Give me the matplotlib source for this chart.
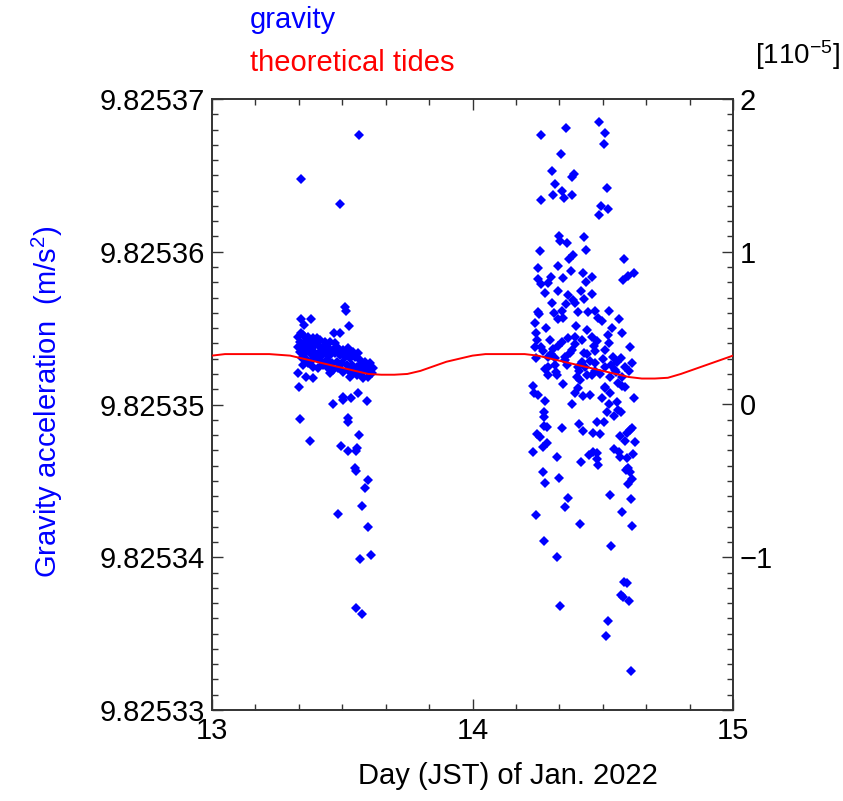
import matplotlib
matplotlib.use("Agg")
import matplotlib.pyplot as plt
from matplotlib.ticker import MultipleLocator, FormatStrFormatter

plt.rcParams["font.family"] = ["Liberation Sans", "DejaVu Sans"]
plt.rcParams["mathtext.fontset"] = "custom"
plt.rcParams["mathtext.rm"] = "Liberation Sans"
plt.rcParams["mathtext.it"] = "Liberation Sans:italic"

G0 = 9.82535  # reference level, right axis is offset in 1e-5 m/s^2

# gravity readings, day of Jan 2022 (JST) and offset from G0 [1e-5 m/s^2]
day_a = [13.564, 13.342, 13.493, 13.511, 13.513, 13.342, 13.379, 13.353, 13.526, 13.469,
         13.491, 13.329, 13.333, 13.388, 13.361, 13.466, 13.502, 13.504, 13.535, 13.559,
         13.594, 13.339, 13.523, 13.523, 13.564, 13.377, 13.495, 13.521, 13.558, 13.554,
         13.549, 13.553, 13.598, 13.587, 13.576, 13.484, 13.598, 13.568, 13.612, 13.553,
         13.575,
         13.331, 13.351, 13.370, 13.389, 13.338, 13.357, 13.376, 13.395, 13.415, 13.434,
         13.453, 13.472, 13.331, 13.351, 13.370, 13.389, 13.408, 13.427, 13.447, 13.466,
         13.485, 13.504, 13.523, 13.543, 13.562, 13.338, 13.357, 13.376, 13.395, 13.415,
         13.434, 13.453, 13.472, 13.491, 13.511, 13.530, 13.549, 13.568, 13.587, 13.606,
         13.619, 13.344, 13.363, 13.383, 13.402, 13.421, 13.440, 13.459, 13.479, 13.498,
         13.517, 13.536, 13.555, 13.574, 13.594, 13.613, 13.351, 13.370, 13.389, 13.408,
         13.427, 13.447, 13.466, 13.485, 13.504, 13.523, 13.543, 13.562, 13.581, 13.600,
         13.453, 13.530, 13.555, 13.581, 13.600, 13.568, 13.517, 13.453, 13.415, 13.383,
         13.340, 13.363, 13.402, 13.440, 13.421]
val_a = [1.764, 1.474, 1.315, 0.640, 0.612, 0.558, 0.558, 0.520, 0.516, 0.466,
         0.470, 0.208, 0.112, 0.171, 0.182, 0.001, 0.029, 0.051, 0.044, 0.077,
         0.023, -0.097, -0.087, -0.113, -0.200, -0.237, -0.272, -0.305, -0.287, -0.305,
         -0.414, -0.436, -0.494, -0.545, -0.663, -0.715, -0.802, -1.010, -0.985, -1.330,
         -1.374,
         0.444, 0.455, 0.444, 0.433, 0.411, 0.411, 0.401, 0.411, 0.422, 0.411,
         0.411, 0.401, 0.379, 0.379, 0.368, 0.379, 0.390, 0.379, 0.368, 0.357,
         0.368, 0.357, 0.368, 0.346, 0.335, 0.346, 0.335, 0.346, 0.335, 0.346,
         0.335, 0.324, 0.335, 0.324, 0.313, 0.302, 0.313, 0.291, 0.280, 0.270,
         0.237, 0.302, 0.291, 0.291, 0.302, 0.280, 0.291, 0.270, 0.280, 0.270,
         0.259, 0.259, 0.248, 0.237, 0.248, 0.204, 0.259, 0.270, 0.248, 0.237,
         0.259, 0.237, 0.226, 0.237, 0.215, 0.226, 0.215, 0.204, 0.215, 0.182,
         0.204, 0.182, 0.193, 0.171, 0.226, 0.259, 0.335, 0.357, 0.313, 0.324,
         0.466, 0.422, 0.433, 0.379, 0.357]

day_b = [14.487, 14.359, 14.262, 14.509, 14.505, 14.339, 14.306, 14.390, 14.383, 14.317,
         14.518, 14.345, 14.310, 14.351, 14.383, 14.263, 14.493, 14.521, 14.487, 14.332,
         14.336, 14.428, 14.362, 14.259, 14.436, 14.583, 14.386, 14.370, 14.330, 14.250,
         14.378, 14.423, 14.620, 14.598, 14.576, 14.253, 14.301, 14.346, 14.457, 14.434,
         14.263, 14.291, 14.278, 14.330, 14.365, 14.417, 14.460, 14.387, 14.393, 14.429,
         14.304, 14.358, 14.253, 14.342, 14.257, 14.314, 14.404, 14.445, 14.470, 14.524,
         14.483, 14.564, 14.240, 14.330, 14.349, 14.496, 14.399, 14.438, 14.537, 14.281,
         14.244, 14.573, 14.521, 14.393, 14.457, 14.246, 14.298, 14.342, 14.368, 14.422,
         14.477, 14.524, 14.240, 14.605, 14.263, 14.310, 14.470, 14.383, 14.509, 14.429,
         14.291, 14.243, 14.317, 14.355, 14.419, 14.451, 14.470, 14.541, 14.570, 14.291,
         14.317, 14.362, 14.406, 14.432, 14.470, 14.509, 14.547, 14.585, 14.611, 14.291,
         14.323, 14.400, 14.438, 14.457, 14.528, 14.573, 14.231, 14.349, 14.406, 14.509,
         14.573,
         14.413, 14.509, 14.560, 14.585, 14.237, 14.253, 14.278, 14.393, 14.425, 14.451,
         14.498, 14.528, 14.525, 14.553, 14.621, 14.383, 14.275, 14.276, 14.515, 14.544,
         14.560, 14.570, 14.479, 14.506, 14.410, 14.276, 14.285, 14.342, 14.423, 14.461,
         14.490, 14.246, 14.259, 14.566, 14.592, 14.605, 14.614, 14.585, 14.624, 14.285,
         14.269, 14.234, 14.326, 14.416, 14.449, 14.464, 14.477, 14.477, 14.481, 14.544,
         14.562, 14.566, 14.592, 14.617, 14.589, 14.598, 14.605, 14.611, 14.598, 14.272,
         14.278, 14.332, 14.365, 14.355, 14.528, 14.608, 14.573, 14.243, 14.414, 14.611,
         14.275, 14.532, 14.323, 14.583, 14.592, 14.570, 14.576, 14.601, 14.337, 14.519,
         14.514, 14.608,
         14.270, 14.300, 14.330, 14.355, 14.375, 14.395, 14.440, 14.465, 14.500, 14.530,
         14.555, 14.280, 14.320, 14.410, 14.490, 14.550, 14.600]
val_b = [1.847, 1.808, 1.764, 1.775, 1.703, 1.640, 1.531, 1.509, 1.492, 1.444,
         1.415, 1.400, 1.369, 1.354, 1.369, 1.339, 1.300, 1.278, 1.239, 1.103,
         1.073, 1.099, 1.055, 1.007, 1.012, 0.950, 0.979, 0.950, 0.907, 0.892,
         0.876, 0.863, 0.863, 0.844, 0.815, 0.820, 0.837, 0.830, 0.837, 0.804,
         0.789, 0.793, 0.728, 0.745, 0.717, 0.745, 0.724, 0.684, 0.667, 0.689,
         0.662, 0.658, 0.608, 0.614, 0.593, 0.597, 0.608, 0.604, 0.612, 0.614,
         0.564, 0.558, 0.532, 0.558, 0.564, 0.549, 0.514, 0.488, 0.499, 0.499,
         0.470, 0.470, 0.455, 0.444, 0.444, 0.422, 0.422, 0.411, 0.433, 0.422,
         0.418, 0.401, 0.379, 0.379, 0.374, 0.361, 0.353, 0.357, 0.357, 0.335,
         0.313, 0.302, 0.302, 0.313, 0.281, 0.287, 0.270, 0.313, 0.302, 0.248,
         0.259, 0.259, 0.248, 0.248, 0.222, 0.248, 0.226, 0.248, 0.270, 0.193,
         0.193, 0.182, 0.193, 0.193, 0.182, 0.182, 0.121, 0.134, 0.106, 0.106,
         0.121,
         0.160, 0.117, 0.139, 0.117, 0.078, 0.062, 0.025, 0.073, 0.056, 0.062,
         0.040, 0.073, 0.003, 0.019, 0.045, 0.003, -0.047, -0.084, -0.047, -0.075,
         -0.036, -0.051, -0.112, -0.112, -0.128, -0.141, -0.149, -0.156, -0.171, -0.184,
         -0.193, -0.193, -0.210, -0.206, -0.189, -0.167, -0.156, -0.239, -0.247, -0.254,
         -0.280, -0.309, -0.341, -0.374, -0.330, -0.309, -0.315, -0.359, -0.396, -0.293,
         -0.309, -0.346, -0.352, -0.324, -0.429, -0.418, -0.440, -0.490, -0.523, -0.440,
         -0.512, -0.481, -0.614, -0.673, -0.595, -0.621, -0.704, -0.723, -0.782, -0.793,
         -0.893, -0.924, -0.996, -1.160, -1.170, -1.247, -1.258, -1.284, -1.317, -1.415,
         -1.513, -1.742,
         0.350, 0.330, 0.380, 0.290, 0.340, 0.395, 0.330, 0.380, 0.300, 0.260,
         0.280, 0.230, 0.210, 0.220, 0.200, 0.210, 0.220]

# theoretical tides
tide_day = [13.00, 13.05, 13.22, 13.30, 13.35, 13.40, 13.45, 13.50, 13.55, 13.60,
            13.65, 13.70, 13.75, 13.80, 13.85, 13.90, 13.95, 14.00, 14.05, 14.20,
            14.25, 14.30, 14.35, 14.40, 14.45, 14.50, 14.55, 14.60, 14.65, 14.70,
            14.75, 14.80, 14.85, 14.90, 14.95, 15.00]
tide_val = [0.32, 0.33, 0.33, 0.32, 0.30, 0.28, 0.26, 0.24, 0.22, 0.20,
            0.195, 0.195, 0.20, 0.22, 0.25, 0.28, 0.30, 0.32, 0.33, 0.33,
            0.32, 0.30, 0.28, 0.26, 0.24, 0.22, 0.20, 0.18, 0.17, 0.17,
            0.175, 0.20, 0.23, 0.26, 0.29, 0.32]

fig = plt.figure(figsize=(8.43, 8.01), dpi=100)
ax = fig.add_axes([212 / 843, 1 - 710 / 801, 521 / 843, 611 / 801])
ax2 = ax.twinx()

ax2.plot(day_a + day_b, val_a + val_b, "D", ms=5, color="#0000ff", mew=0, zorder=2)
ax2.plot(tide_day, tide_val, "-", color="#ff0000", lw=1.4, zorder=3)

ax.set_xlim(13, 15)
ax.set_ylim(G0 - 2e-5, G0 + 2e-5)
ax2.set_ylim(-2, 2)

ax.set_xticks([13, 14, 15])
ax.xaxis.set_minor_locator(MultipleLocator(1 / 6))
ax.set_yticks([G0 - 2e-5, G0 - 1e-5, G0, G0 + 1e-5, G0 + 2e-5])
ax.yaxis.set_minor_locator(MultipleLocator(1e-6))
ax.yaxis.set_major_formatter(FormatStrFormatter("%.5f"))
ax2.set_yticks([-2, -1, 0, 1, 2])
ax2.yaxis.set_minor_locator(MultipleLocator(0.1))
ax2.set_yticklabels(["", "\u22121", "0", "1", "2"])

ax.tick_params(which="both", direction="in", top=True, right=False, width=1,
               labelsize=21, pad=5, color="#333333")
ax.tick_params(which="major", length=8)
ax.tick_params(which="minor", length=4)
ax2.tick_params(which="both", direction="in", width=1, labelsize=21, pad=5,
                color="#333333")
ax2.tick_params(which="major", length=8)
ax2.tick_params(which="minor", length=4)
for a in (ax, ax2):
    for s in a.spines.values():
        s.set_linewidth(1.2)
        s.set_color("#333333")

fig.text(47 / 843, 1 - 402 / 801, "Gravity acceleration  (m/s$^2$)", rotation=90,
         ha="center", va="center", fontsize=21, color="#0000ff")
fig.text(508 / 843, 1 - 776 / 801, "Day (JST) of Jan. 2022", ha="center", va="center",
         fontsize=21)
fig.text(250 / 843, 1 - 20 / 801, "gravity", ha="left", va="center", fontsize=21,
         color="#0000ff")
fig.text(250 / 843, 1 - 63 / 801, "theoretical tides", ha="left", va="center",
         fontsize=21, color="#ff0000")
fig.text(755 / 843, 1 - 55 / 801, "[110$^{\u22125}$]", ha="left", va="center", fontsize=20)

fig.savefig("out.png", dpi=100)
